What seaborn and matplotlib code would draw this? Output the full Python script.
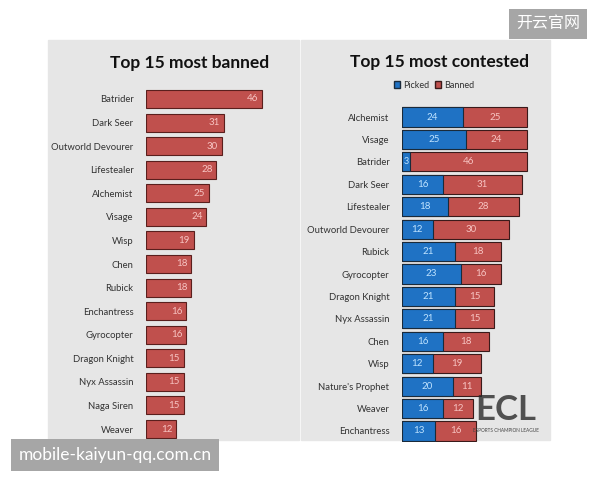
import matplotlib
matplotlib.use('Agg')
import matplotlib.pyplot as plt
import seaborn as sns
import pandas as pd
from matplotlib.patches import Rectangle, Patch

# --- datos ---
banned_heroes = ['Batrider', 'Dark Seer', 'Outworld Devourer', 'Lifestealer', 'Alchemist',
                 'Visage', 'Wisp', 'Chen', 'Rubick', 'Enchantress', 'Gyrocopter',
                 'Dragon Knight', 'Nyx Assassin', 'Naga Siren', 'Weaver']
banned_counts = [46, 31, 30, 28, 25, 24, 19, 18, 18, 16, 16, 15, 15, 15, 12]

contested_heroes = ['Alchemist', 'Visage', 'Batrider', 'Dark Seer', 'Lifestealer',
                    'Outworld Devourer', 'Rubick', 'Gyrocopter', 'Dragon Knight',
                    'Nyx Assassin', 'Chen', 'Wisp', "Nature's Prophet", 'Weaver', 'Enchantress']
contested_picked = [24, 25, 3, 16, 18, 12, 21, 23, 21, 21, 16, 12, 20, 16, 13]
contested_banned = [25, 24, 46, 31, 28, 30, 18, 16, 15, 15, 18, 19, 11, 12, 16]

RED = '#c0504d'
BLUE = '#1f72c4'
BG = '#e6e6e6'

sns.set_style('white')
plt.rcParams['font.family'] = ['Lato', 'Noto Sans CJK SC', 'DejaVu Sans']

fig = plt.figure(figsize=(6, 4.8), dpi=100)
W, H = 600, 480

def fx(px):
    return px / W

def fy(py):
    return 1 - py / H

# fondo gris de la imagen (detras de los ejes)
fig.patches.append(Rectangle((fx(48), fy(440)), fx(251), fy(40) - fy(440),
                             transform=fig.transFigure, color=BG, zorder=-5))
fig.patches.append(Rectangle((fx(301), fy(440)), fx(249), fy(40) - fy(440),
                             transform=fig.transFigure, color=BG, zorder=-5))

# ---- izquierda: mas baneados ----
ax1 = fig.add_axes([fx(146), fy(440.8), fx(151), fy(87.2) - fy(440.8)])
df1 = pd.DataFrame({'hero': banned_heroes, 'n': banned_counts})
sns.barplot(data=df1, x='n', y='hero', color=RED, saturation=1, width=0.76,
            edgecolor='#5a1f1d', linewidth=0.8, ax=ax1)
ax1.set_xlim(0, 60)
ax1.set_ylim(14.5, -0.5)
for i, v in enumerate(banned_counts):
    ax1.text(v - 1.5, i, str(v), ha='right', va='center', color='#f7c4c2', fontsize=7)
ax1.set_xlabel('')
ax1.set_ylabel('')
ax1.set_xticks([])
ax1.tick_params(axis='y', length=0, pad=9, labelsize=6.8, labelcolor='#333333')
sns.despine(ax=ax1, left=True, bottom=True)
ax1.patch.set_alpha(0)
fig.text(fx(190), fy(63), 'Top 15 most banned', ha='center', va='center',
         fontsize=12.5, fontweight='bold', color='#111111')

# ---- derecha: mas disputados ----
ax2 = fig.add_axes([fx(402), fy(442.2), fx(140), fy(105.8) - fy(442.2)])
totals = [p + b for p, b in zip(contested_picked, contested_banned)]
df2 = pd.DataFrame({'hero': contested_heroes, 'picked': contested_picked, 'total': totals})
sns.barplot(data=df2, x='total', y='hero', color=RED, saturation=1, width=0.85,
            edgecolor='#3a1a1a', linewidth=0.8, ax=ax2)
sns.barplot(data=df2, x='picked', y='hero', color=BLUE, saturation=1, width=0.85,
            edgecolor='#1a2a3a', linewidth=0.8, ax=ax2)
ax2.set_xlim(0, 55)
ax2.set_ylim(14.5, -0.5)
for i, (p, b) in enumerate(zip(contested_picked, contested_banned)):
    ax2.text(p / 2, i, str(p), ha='center', va='center', color='#bfe3ff',
             fontsize=6.5 if p < 5 else 7)
    ax2.text(p + b / 2, i, str(b), ha='center', va='center', color='#f7c4c2', fontsize=7)
ax2.set_xlabel('')
ax2.set_ylabel('')
ax2.set_xticks([])
ax2.tick_params(axis='y', length=0, pad=9, labelsize=6.8, labelcolor='#333333')
sns.despine(ax=ax2, left=True, bottom=True)
ax2.patch.set_alpha(0)
fig.text(fx(440), fy(62), 'Top 15 most contested', ha='center', va='center',
         fontsize=12.5, fontweight='bold', color='#111111')
handles = [Patch(facecolor=BLUE, edgecolor='#1a2a3a', label='Picked'),
           Patch(facecolor=RED, edgecolor='#3a1a1a', label='Banned')]
fig.legend(handles=handles, loc='center', bbox_to_anchor=(fx(434), fy(85)), ncol=2,
           frameon=False, fontsize=6.5, handlelength=0.7, handleheight=0.7,
           handletextpad=0.3, columnspacing=0.6, labelcolor='#333333')

# logo ECL superpuesto
fig.text(fx(506), fy(410), 'ECL', ha='center', va='center', fontsize=25,
         fontweight='bold', color='#2b2b2b', alpha=0.8)
fig.text(fx(506), fy(430), 'ESPORTS CHAMPION LEAGUE', ha='center', va='center',
         fontsize=3.4, color='#444444')

# marcas de agua
fig.text(fx(548), fy(24), '开云官网', ha='center', va='center', fontsize=11.5,
         color='white', bbox=dict(boxstyle='square,pad=0.45', facecolor='#a6a6a6', edgecolor='none'))
fig.text(fx(115), fy(455), 'mobile-kaiyun-qq.com.cn', ha='center', va='center',
         fontsize=12.5, color='white',
         bbox=dict(boxstyle='square,pad=0.45', facecolor='#a6a6a6', edgecolor='none'))

fig.savefig('out.png', dpi=100)
